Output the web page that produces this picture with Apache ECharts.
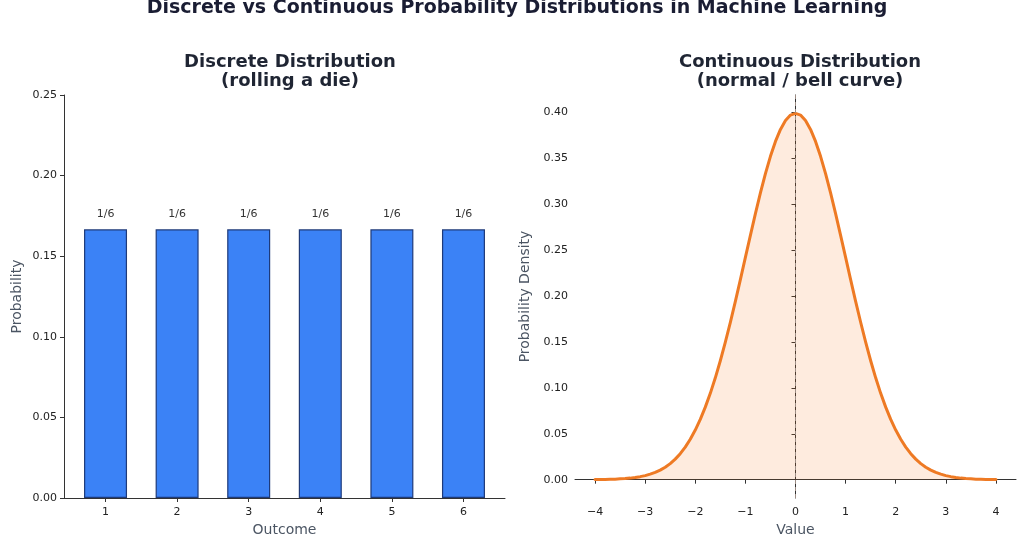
<!DOCTYPE html>
<html>
<head>
<meta charset="utf-8">
<script src="https://cdn.jsdelivr.net/npm/echarts@6/dist/echarts.min.js"></script>
<style>
html,body{margin:0;padding:0;background:#fff;}
#chart{width:1024px;height:538px;}
</style>
</head>
<body>
<div id="chart"></div>
<script>
// Discrete distribution (rolling a die)
const outcomes = [1, 2, 3, 4, 5, 6];
const probabilities = [0.1667, 0.1667, 0.1667, 0.1667, 0.1667, 0.1667];
const barLabels = ['1/6', '1/6', '1/6', '1/6', '1/6', '1/6'];
const probTicks = [0, 0.05, 0.10, 0.15, 0.20, 0.25];

// Continuous distribution (normal / bell curve), read at steps of 0.1
const xValues = [
  -4.0, -3.9, -3.8, -3.7, -3.6, -3.5, -3.4, -3.3, -3.2, -3.1,
  -3.0, -2.9, -2.8, -2.7, -2.6, -2.5, -2.4, -2.3, -2.2, -2.1,
  -2.0, -1.9, -1.8, -1.7, -1.6, -1.5, -1.4, -1.3, -1.2, -1.1,
  -1.0, -0.9, -0.8, -0.7, -0.6, -0.5, -0.4, -0.3, -0.2, -0.1,
  0.0,
  0.1, 0.2, 0.3, 0.4, 0.5, 0.6, 0.7, 0.8, 0.9, 1.0,
  1.1, 1.2, 1.3, 1.4, 1.5, 1.6, 1.7, 1.8, 1.9, 2.0,
  2.1, 2.2, 2.3, 2.4, 2.5, 2.6, 2.7, 2.8, 2.9, 3.0,
  3.1, 3.2, 3.3, 3.4, 3.5, 3.6, 3.7, 3.8, 3.9, 4.0
];
const densityValues = [
  0.0001, 0.0002, 0.0003, 0.0004, 0.0006, 0.0009, 0.0012, 0.0017, 0.0024, 0.0033,
  0.0044, 0.0060, 0.0079, 0.0104, 0.0136, 0.0175, 0.0224, 0.0283, 0.0355, 0.0440,
  0.0540, 0.0656, 0.0790, 0.0940, 0.1109, 0.1295, 0.1497, 0.1714, 0.1942, 0.2179,
  0.2420, 0.2661, 0.2897, 0.3123, 0.3332, 0.3521, 0.3683, 0.3814, 0.3910, 0.3970,
  0.3989,
  0.3970, 0.3910, 0.3814, 0.3683, 0.3521, 0.3332, 0.3123, 0.2897, 0.2661, 0.2420,
  0.2179, 0.1942, 0.1714, 0.1497, 0.1295, 0.1109, 0.0940, 0.0790, 0.0656, 0.0540,
  0.0440, 0.0355, 0.0283, 0.0224, 0.0175, 0.0136, 0.0104, 0.0079, 0.0060, 0.0044,
  0.0033, 0.0024, 0.0017, 0.0012, 0.0009, 0.0006, 0.0004, 0.0003, 0.0002, 0.0001
];
const valueTicks = [-4, -3, -2, -1, 0, 1, 2, 3, 4];
const densityTicks = [0, 0.05, 0.10, 0.15, 0.20, 0.25, 0.30, 0.35, 0.40];

const FONT = 'DejaVu Sans';
const axisColor = '#333333';
const tickLabel = {fontFamily: FONT, fontSize: 11, color: '#222222'};
const nameStyle = {fontFamily: FONT, fontSize: 14, color: '#4b5563'};
const minus = v => String(v).replace('-', '\u2212');

const chart = echarts.init(document.getElementById('chart'), null, {renderer: 'canvas'});
chart.setOption({
  animation: false,
  backgroundColor: '#ffffff',
  title: [
    {text: 'Discrete vs Continuous Probability Distributions in Machine Learning', left: 512, top: -6, textAlign: 'center',
     textStyle: {fontFamily: FONT, fontSize: 19, fontWeight: 'bold', color: '#1a1d33'}},
    {text: 'Discrete Distribution\n(rolling a die)', left: 285, top: 48, textAlign: 'center',
     textStyle: {fontFamily: FONT, fontSize: 18, fontWeight: 'bold', color: '#1f2533', lineHeight: 19}},
    {text: 'Continuous Distribution\n(normal / bell curve)', left: 795, top: 48, textAlign: 'center',
     textStyle: {fontFamily: FONT, fontSize: 18, fontWeight: 'bold', color: '#1f2533', lineHeight: 19}}
  ],
  grid: [
    {left: 64, right: 519, top: 95, bottom: 40, containLabel: false, outerBoundsMode: 'none'},
    {left: 575, right: 8, top: 95, bottom: 40, containLabel: false, outerBoundsMode: 'none'}
  ],
  xAxis: [
    {type: 'value', gridIndex: 0, min: 0.42, max: 6.58,
     name: 'Outcome', nameLocation: 'middle', nameGap: 25, nameTextStyle: nameStyle,
     axisLine: {lineStyle: {color: axisColor, width: 1}},
     axisTick: {show: true, length: 4, lineStyle: {color: axisColor}, customValues: outcomes},
     axisLabel: {...tickLabel, margin: 9, customValues: outcomes},
     splitLine: {show: false}},
    {type: 'value', gridIndex: 1, min: -4.4, max: 4.4,
     name: 'Value', nameLocation: 'middle', nameGap: 25, nameTextStyle: nameStyle,
     axisLine: {lineStyle: {color: axisColor, width: 1}},
     axisTick: {show: true, length: 4, lineStyle: {color: axisColor}, customValues: valueTicks},
     axisLabel: {...tickLabel, margin: 9, customValues: valueTicks, formatter: v => minus(v)},
     splitLine: {show: false}}
  ],
  yAxis: [
    {type: 'value', gridIndex: 0, min: 0, max: 0.25,
     name: 'Probability', nameLocation: 'middle', nameGap: 40, nameTextStyle: nameStyle,
     axisLine: {show: true, lineStyle: {color: axisColor, width: 1}},
     axisTick: {show: true, length: 4, lineStyle: {color: axisColor}, customValues: probTicks},
     axisLabel: {...tickLabel, margin: 7, customValues: probTicks, formatter: v => v.toFixed(2)},
     splitLine: {show: false}},
    {type: 'value', gridIndex: 1, min: -0.01995, max: 0.41888,
     name: 'Probability Density', nameLocation: 'middle', nameGap: 43, nameTextStyle: nameStyle,
     axisLine: {show: true, lineStyle: {color: axisColor, width: 1}},
     axisTick: {show: true, length: 4, lineStyle: {color: axisColor}, customValues: densityTicks},
     axisLabel: {...tickLabel, margin: 7, customValues: densityTicks, formatter: v => v.toFixed(2)},
     splitLine: {show: false}}
  ],
  series: [
    {type: 'bar', xAxisIndex: 0, yAxisIndex: 0, barWidth: 43,
     data: outcomes.map((o, i) => [o, probabilities[i]]),
     itemStyle: {color: '#3b82f6', borderColor: '#1e3a7a', borderWidth: 1.2},
     label: {show: true, position: 'top', distance: 10, fontFamily: FONT, fontSize: 11, color: '#333333',
             formatter: p => barLabels[p.dataIndex]}},
    {type: 'line', xAxisIndex: 1, yAxisIndex: 1, smooth: false, symbol: 'none',
     data: xValues.map((x, i) => [x, densityValues[i]]),
     lineStyle: {color: '#ee7a24', width: 3, cap: 'round', join: 'round'},
     areaStyle: {color: 'rgba(249,115,22,0.2)'},
     markLine: {symbol: ['none', 'none'], silent: true, label: {show: false},
                lineStyle: {type: [4, 3], color: '#9c8c84', width: 1},
                data: [{xAxis: 0}]}}
  ]
});
</script>
</body>
</html>
